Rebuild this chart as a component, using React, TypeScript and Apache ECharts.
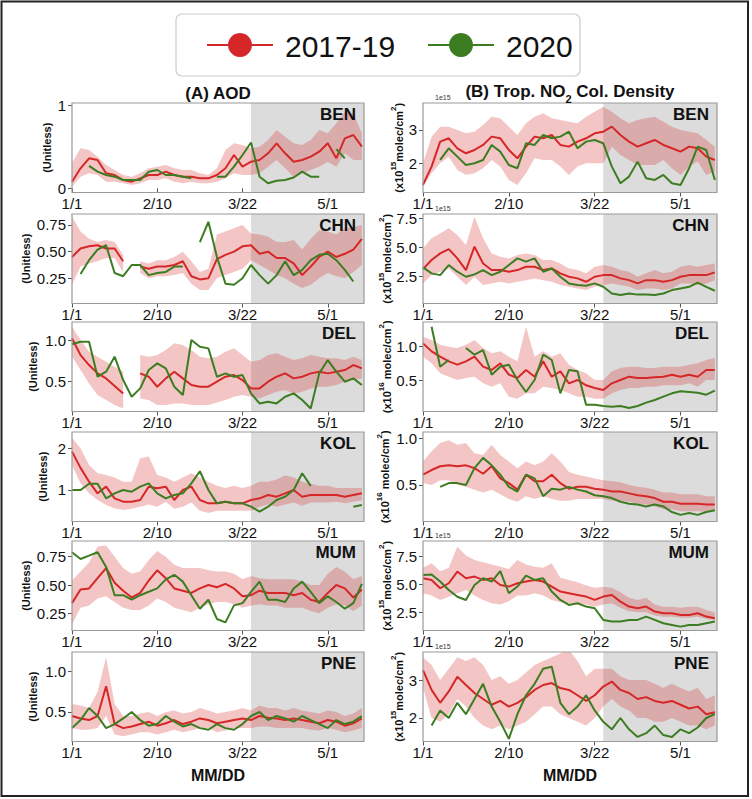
import React, { useEffect, useRef } from "react";
import * as echarts from "echarts";

// ---------------- DATA ----------------
const DAYS = [0, 4, 8, 12, 16, 20, 24, 28, 32, 36, 40, 44, 48, 52, 56, 60, 64, 68, 72, 76, 80, 84, 88, 92, 96, 100, 104, 108, 112, 116, 120, 124, 128, 132, 136];
const X_TICKS = [0, 40, 80, 120];
const X_TICK_LABELS = ["1/1", "2/10", "3/22", "5/1"];
const X_MAX = 137;
const LOCKDOWN_START = 84;
const STATIONS = ["BEN", "CHN", "DEL", "KOL", "MUM", "PNE"];
const SERIES_NAMES = ["2017-19", "2020"];

const BEN_AOD_MEAN = [0.08,0.24,0.36,0.34,0.18,0.16,0.10,0.08,0.12,0.16,0.16,0.20,0.16,0.14,0.14,0.12,0.12,0.16,0.24,0.40,0.26,0.32,0.34,0.42,0.54,0.42,0.32,0.34,0.38,0.44,0.54,0.36,0.60,0.64,0.50];
const BEN_AOD_LO = [0.02,0.14,0.18,0.16,0.08,0.08,0.06,0.04,0.06,0.10,0.10,0.12,0.08,0.06,0.08,0.06,0.06,0.08,0.12,0.18,0.16,0.16,0.18,0.26,0.34,0.24,0.14,0.18,0.22,0.26,0.32,0.26,0.42,0.34,0.34];
const BEN_AOD_HI = [0.30,0.48,0.46,0.38,0.28,0.22,0.16,0.14,0.18,0.24,0.26,0.28,0.24,0.22,0.22,0.18,0.16,0.24,0.46,0.54,0.52,0.48,0.50,0.58,0.70,0.62,0.54,0.52,0.58,0.70,0.66,0.78,0.92,0.90,0.66];
const BEN_AOD_2020 = [null,null,0.27,0.20,0.16,0.14,0.10,0.10,0.10,0.20,0.22,0.16,0.16,0.14,0.12,null,null,0.14,0.14,0.26,0.40,0.55,0.14,0.06,0.09,0.10,0.13,0.20,0.14,0.14,null,0.47,0.36,null,null];

const BEN_NO2_MEAN = [1.35,1.90,2.65,2.75,2.45,2.30,2.40,2.55,2.80,2.75,2.40,2.15,2.50,2.80,2.75,2.85,2.55,2.50,2.65,2.75,2.90,2.95,3.10,2.85,2.65,2.50,2.60,2.70,2.55,2.45,2.35,2.50,2.45,2.20,2.10];
const BEN_NO2_LO = [1.30,1.70,2.00,2.20,1.80,1.65,1.70,1.85,2.10,1.90,1.50,1.35,1.70,2.15,2.10,2.10,1.90,1.65,1.90,2.00,2.00,2.00,2.50,2.25,2.10,1.95,1.95,1.95,2.10,1.85,1.65,1.90,2.05,1.65,1.75];
const BEN_NO2_HI = [2.00,2.80,3.10,3.10,3.00,2.90,2.95,3.15,3.40,3.35,3.10,2.85,3.20,3.40,3.50,3.35,3.30,3.25,3.20,3.40,3.55,3.70,3.55,3.35,3.20,3.30,3.35,3.40,3.25,3.10,3.00,2.95,2.90,2.70,2.50];
const BEN_NO2_2020 = [null,null,2.10,2.45,2.20,1.95,2.00,2.10,2.55,2.35,1.95,1.85,2.60,2.55,2.85,2.75,2.80,2.95,2.45,2.65,2.70,2.60,1.90,1.40,1.60,2.05,1.55,1.50,1.65,1.40,1.35,1.85,2.50,2.40,1.50];

const CHN_AOD_MEAN = [0.45,0.53,0.55,0.56,0.53,0.53,0.41,null,0.36,0.34,0.36,0.36,0.375,0.41,0.27,0.24,0.25,0.43,0.47,0.50,0.55,0.56,0.48,0.50,0.44,0.44,0.39,0.28,0.36,0.45,0.50,0.45,0.48,0.52,0.62];
const CHN_AOD_LO = [0.19,0.36,0.39,0.41,0.44,0.44,0.31,null,0.30,0.25,0.27,0.27,0.28,0.30,0.20,0.14,0.14,0.25,0.28,0.31,0.34,0.42,0.375,0.33,0.28,0.25,0.20,0.16,0.19,0.25,0.30,0.27,0.25,0.31,0.375];
const CHN_AOD_HI = [0.83,0.69,0.62,0.59,0.61,0.59,0.47,null,0.41,0.39,0.42,0.42,0.45,0.50,0.41,0.31,0.34,0.66,0.69,0.72,0.75,0.67,0.66,0.64,0.59,0.59,0.61,0.52,0.62,0.70,0.69,0.66,0.72,0.73,0.75];
const CHN_AOD_2020 = [null,0.29,0.42,0.52,0.56,0.30,0.27,0.375,0.375,0.28,0.30,0.31,0.36,0.36,null,0.59,0.78,0.45,0.20,0.19,0.25,0.375,0.28,0.20,0.28,0.41,0.28,0.33,0.42,0.47,0.48,0.42,0.33,0.22,null];

const CHN_NO2_MEAN = [3.15,3.93,4.50,4.87,4.07,3.07,5.07,3.64,3.07,3.07,2.93,3.07,3.36,3.36,3.07,3.21,2.79,2.50,2.36,2.07,2.50,2.64,2.64,2.36,2.21,1.93,2.21,2.21,2.07,2.21,2.50,2.64,2.64,2.64,2.87];
const CHN_NO2_LO = [1.93,2.64,2.93,3.21,2.50,1.79,2.50,1.79,1.93,2.07,1.93,2.07,2.21,2.36,2.21,2.07,1.79,1.64,1.50,1.36,1.64,1.79,1.93,1.79,1.64,1.36,1.50,1.50,1.36,1.50,1.93,1.93,1.79,1.93,2.21];
const CHN_NO2_HI = [4.93,5.79,6.21,6.64,6.07,5.21,7.64,5.79,4.50,4.21,4.07,4.36,4.50,4.36,3.93,3.93,3.64,3.21,3.07,2.79,3.36,3.50,3.36,3.07,2.93,2.50,2.79,3.07,2.79,2.93,3.36,3.50,3.36,3.50,3.64];
const CHN_NO2_2020 = [3.30,2.79,2.64,3.50,2.93,2.50,2.70,3.07,2.64,2.93,3.50,4.07,3.79,4.07,2.93,3.21,2.50,1.93,1.79,1.73,1.93,1.64,1.07,0.93,1.07,0.97,0.97,0.93,1.07,1.36,1.50,1.64,2.00,1.64,1.30];

const DEL_AOD_MEAN = [1.02,0.82,0.70,0.60,0.54,0.45,0.36,null,0.60,0.56,0.44,0.54,0.62,0.54,0.46,0.44,0.44,0.50,0.56,0.58,0.52,0.42,0.42,0.50,0.56,0.60,0.54,0.56,0.60,0.62,0.60,0.62,0.64,0.70,0.66];
const DEL_AOD_LO = [0.80,0.64,0.48,0.34,0.28,0.22,0.18,null,0.30,0.28,0.22,0.22,0.24,0.24,0.22,0.22,0.22,0.25,0.28,0.32,0.34,0.32,0.30,0.34,0.38,0.40,0.36,0.38,0.42,0.44,0.44,0.46,0.50,0.52,0.54];
const DEL_AOD_HI = [1.16,1.00,0.86,0.80,0.74,0.68,0.62,null,0.82,0.80,0.82,0.88,0.96,0.94,0.88,0.80,0.78,0.80,0.86,0.90,0.82,0.74,0.76,0.82,0.84,0.80,0.76,0.78,0.82,0.80,0.78,0.78,0.76,0.80,0.76];
const DEL_AOD_2020 = [0.95,0.98,0.98,0.56,0.62,0.80,0.52,0.32,0.42,0.64,0.72,0.66,0.44,0.34,1.00,0.92,0.90,0.56,0.60,0.56,0.58,0.36,0.24,0.26,0.24,0.32,0.36,0.28,0.18,0.60,0.76,0.62,0.50,0.54,0.46];

const DEL_NO2_MEAN = [1.05,0.93,0.85,0.78,0.73,0.78,0.85,0.70,0.65,0.75,0.58,0.53,0.65,0.55,0.78,0.55,0.63,0.45,0.50,0.42,0.38,0.35,0.45,0.50,0.55,0.53,0.53,0.54,0.55,0.58,0.55,0.58,0.55,0.65,0.65];
const DEL_NO2_LO = [0.85,0.75,0.60,0.55,0.50,0.53,0.55,0.45,0.40,0.45,0.25,0.22,0.30,0.30,0.40,0.38,0.35,0.30,0.25,0.25,0.22,0.22,0.30,0.35,0.38,0.38,0.40,0.40,0.42,0.42,0.42,0.45,0.40,0.50,0.50];
const DEL_NO2_HI = [1.15,1.10,1.03,1.00,0.98,1.03,1.10,0.98,0.90,0.93,0.85,0.78,1.30,0.85,0.93,0.85,0.90,0.73,0.65,0.60,0.50,0.50,0.63,0.68,0.70,0.70,0.68,0.68,0.70,0.70,0.70,0.73,0.75,0.80,0.83];
const DEL_NO2_2020 = [null,1.30,0.70,0.80,null,0.98,0.88,0.95,0.58,0.70,0.73,0.50,0.32,0.50,0.88,0.80,0.30,0.65,0.63,0.13,0.13,0.11,0.10,0.11,0.08,0.11,0.16,0.20,0.25,0.30,0.33,0.32,0.31,0.28,0.34];

const KOL_AOD_MEAN = [1.92,1.53,1.20,0.92,1.08,0.80,0.72,0.72,0.76,1.08,1.04,1.08,0.76,1.00,1.08,0.76,0.68,0.68,0.72,0.68,0.68,0.76,0.80,0.88,0.84,0.92,1.00,0.84,0.88,0.88,0.88,0.88,0.84,0.88,0.92];
const KOL_AOD_LO = [1.60,1.16,0.92,0.76,0.64,0.56,0.52,0.55,0.60,0.65,0.60,0.72,0.55,0.60,0.70,0.50,0.45,0.50,0.50,0.50,0.50,0.50,0.60,0.65,0.60,0.65,0.70,0.62,0.70,0.70,0.70,0.72,0.68,0.72,0.75];
const KOL_AOD_HI = [2.25,2.00,1.60,1.40,1.36,1.30,1.20,1.20,1.76,1.80,1.36,1.30,1.20,1.30,1.40,1.30,1.20,1.10,1.05,1.10,1.05,1.10,1.20,1.20,1.25,1.35,1.30,1.20,1.15,1.10,1.10,1.05,1.05,1.05,1.05];
const KOL_AOD_2020 = [1.00,1.00,1.15,1.15,0.80,0.92,1.00,0.96,1.08,1.16,0.92,0.80,0.88,0.92,1.16,1.45,1.00,0.68,0.72,0.68,0.68,0.60,0.48,0.60,0.76,0.84,1.00,1.40,1.10,null,null,null,null,0.60,0.64];

const KOL_NO2_MEAN = [0.61,0.66,0.70,0.71,0.70,0.71,0.68,0.62,0.70,0.57,0.52,0.45,0.61,0.54,0.54,0.61,0.52,0.46,0.48,0.48,0.46,0.45,0.43,0.43,0.41,0.39,0.38,0.36,0.32,0.32,0.30,0.30,0.30,0.29,0.29];
const KOL_NO2_LO = [0.52,0.50,0.55,0.55,0.50,0.48,0.45,0.42,0.45,0.40,0.35,0.32,0.38,0.35,0.38,0.35,0.33,0.33,0.35,0.35,0.35,0.35,0.33,0.33,0.32,0.30,0.29,0.27,0.24,0.24,0.22,0.22,0.22,0.21,0.22];
const KOL_NO2_HI = [0.75,0.86,0.95,0.98,0.93,0.95,0.84,0.82,0.93,0.82,0.75,0.68,0.75,0.71,0.75,0.84,0.75,0.64,0.61,0.59,0.57,0.55,0.54,0.53,0.50,0.48,0.47,0.45,0.42,0.42,0.40,0.40,0.40,0.38,0.38];
const KOL_NO2_2020 = [null,null,0.48,0.52,0.52,0.50,0.68,0.79,0.71,0.61,0.48,0.43,0.61,0.57,0.38,0.46,0.45,0.48,0.45,0.43,0.39,0.38,0.36,0.32,0.30,0.29,0.27,0.29,0.27,0.21,0.18,0.20,0.18,0.21,0.23];

const MUM_AOD_MEAN = [0.34,0.46,0.47,0.56,0.65,0.52,0.45,0.39,0.43,0.54,0.63,0.56,0.47,0.45,0.43,0.47,0.50,0.48,0.51,0.47,0.40,0.41,0.45,0.43,0.43,0.43,0.41,0.43,0.37,0.35,0.43,0.50,0.47,0.39,0.46];
const MUM_AOD_LO = [0.15,0.30,0.32,0.38,0.40,0.35,0.30,0.28,0.28,0.32,0.38,0.35,0.30,0.28,0.26,0.30,0.33,0.35,0.35,0.33,0.30,0.32,0.33,0.32,0.32,0.30,0.30,0.30,0.27,0.25,0.30,0.33,0.32,0.27,0.32];
const MUM_AOD_HI = [0.54,0.62,0.70,0.84,0.85,0.75,0.65,0.60,0.62,0.72,0.80,0.75,0.68,0.65,0.65,0.65,0.63,0.62,0.62,0.60,0.55,0.58,0.56,0.55,0.55,0.55,0.55,0.53,0.50,0.50,0.60,0.66,0.62,0.55,0.58];
const MUM_AOD_2020 = [0.79,0.73,0.76,0.79,0.66,0.41,0.41,0.37,0.41,0.44,0.47,0.55,0.59,0.53,0.41,0.29,0.37,0.20,0.17,0.32,0.34,0.44,0.53,0.37,0.37,0.35,0.47,0.53,0.44,0.34,0.40,0.35,0.29,0.34,0.51];

const MUM_NO2_MEAN = [5.56,5.41,4.66,5.11,6.16,5.56,5.71,5.41,5.56,4.96,4.81,5.11,5.26,5.41,5.26,4.81,4.36,4.21,4.06,3.91,3.61,3.91,4.06,3.46,3.01,2.86,3.01,2.56,2.41,2.41,2.26,2.26,2.41,2.11,1.96];
const MUM_NO2_LO = [4.2,4.0,3.6,3.9,4.2,4.5,4.0,3.6,3.3,3.2,3.5,4.0,4.0,4.2,4.0,3.6,3.4,3.3,3.2,3.2,3.0,3.2,3.3,2.9,2.6,2.5,2.5,2.2,2.1,2.1,2.0,2.0,2.1,1.9,1.8];
const MUM_NO2_HI = [6.5,6.9,6.2,6.5,8.4,7.6,7.2,7.0,6.8,6.6,6.4,7.2,6.8,6.6,6.5,6.9,5.6,5.4,5.2,4.9,4.7,4.8,4.7,4.3,3.8,3.6,3.8,3.2,3.0,3.0,2.9,3.0,3.0,2.7,2.5];
const MUM_NO2_2020 = [5.86,5.90,5.26,4.50,3.90,3.60,4.96,5.56,5.26,6.20,4.21,4.81,5.80,5.41,5.56,4.36,3.61,3.16,3.31,3.01,2.86,1.81,1.66,1.66,1.81,1.81,2.11,1.81,1.51,1.36,1.21,1.36,1.36,1.51,1.66];

const PNE_AOD_MEAN = [0.45,0.42,0.40,0.45,0.82,0.35,0.30,0.32,0.35,0.38,0.33,0.36,0.40,0.35,0.38,0.42,0.40,0.36,0.38,0.40,0.42,0.40,0.45,0.43,0.42,0.40,0.42,0.40,0.38,0.36,0.40,0.38,0.33,0.36,0.42];
const PNE_AOD_LO = [0.30,0.28,0.28,0.30,0.45,0.22,0.20,0.22,0.25,0.25,0.22,0.25,0.28,0.25,0.27,0.30,0.30,0.25,0.27,0.30,0.30,0.30,0.32,0.32,0.30,0.30,0.30,0.30,0.28,0.27,0.30,0.28,0.25,0.27,0.30];
const PNE_AOD_HI = [0.60,0.58,0.55,0.75,1.18,0.60,0.45,0.45,0.48,0.50,0.45,0.50,0.52,0.48,0.50,0.55,0.52,0.48,0.50,0.52,0.55,0.52,0.58,0.55,0.55,0.52,0.55,0.52,0.50,0.48,0.52,0.50,0.45,0.48,0.55];
const PNE_AOD_2020 = [0.30,0.40,0.55,0.45,0.30,0.35,0.42,0.50,0.40,0.33,0.35,0.45,0.38,0.32,0.35,0.30,0.28,0.35,0.30,0.28,0.35,0.45,0.50,0.40,0.45,0.42,0.38,0.45,0.40,0.35,0.30,0.40,0.35,0.38,0.45];

const PNE_NO2_MEAN = [3.26,2.74,2.40,2.70,3.09,2.87,2.66,2.50,2.35,2.45,2.30,2.40,2.55,2.74,2.87,2.92,2.79,2.74,2.60,2.45,2.60,2.83,2.96,2.74,2.66,2.50,2.55,2.45,2.40,2.45,2.35,2.25,2.30,2.10,2.15];
const PNE_NO2_LO = [2.8,2.0,1.9,2.1,2.5,2.3,2.0,1.8,1.7,1.8,1.7,1.8,1.9,2.1,2.3,2.3,2.1,2.0,1.9,1.8,2.0,2.3,2.5,2.3,2.2,2.0,2.0,1.9,1.9,2.0,1.9,1.8,1.8,1.7,1.8];
const PNE_NO2_HI = [3.6,3.4,3.0,3.3,3.6,3.5,3.6,3.4,3.0,3.1,2.9,3.0,3.2,3.4,3.5,3.6,3.7,3.8,3.5,3.1,3.3,3.3,3.3,3.1,3.0,3.0,3.0,2.9,2.8,2.9,2.8,2.7,2.8,2.5,2.6];
const PNE_NO2_2020 = [null,1.80,2.20,2.00,2.40,2.10,2.50,2.90,2.30,1.90,1.45,2.10,2.60,2.90,3.30,3.35,2.40,2.10,2.30,2.60,2.20,1.90,1.70,2.00,1.70,1.50,1.60,1.80,1.55,1.50,1.70,1.60,1.75,2.00,2.10];

const AOD_Y_MIN = [-0.05, 0.014, 0.143, 0.245, 0.098, 0.134];
const AOD_Y_MAX = [1.024, 0.853, 1.216, 2.39, 0.889, 1.244];
const AOD_TICKS = [[0, 1], [0.25, 0.5, 0.75], [0.5, 1.0], [1, 2], [0.25, 0.5, 0.75], [0.5, 1.0]];
const AOD_TICK_LABELS = [["0", "1"], ["0.25", "0.50", "0.75"], ["0.5", "1.0"], ["1", "2"], ["0.25", "0.50", "0.75"], ["0.5", "1.0"]];
const NO2_Y_MIN = [1.123, 0.21, 0.027, 0.109, 0.86, 1.38];
const NO2_Y_MAX = [3.81, 7.87, 1.371, 1.067, 8.91, 3.74];
const NO2_TICKS = [[2, 3], [2.5, 5, 7.5], [0.5, 1.0], [0.5, 1.0], [2.5, 5, 7.5], [2, 3]];
const NO2_TICK_LABELS = [["2", "3"], ["2.5", "5.0", "7.5"], ["0.5", "1.0"], ["0.5", "1.0"], ["2.5", "5.0", "7.5"], ["2", "3"]];
const NO2_EXPONENT = ["15", "15", "16", "16", "15", "15"];
const NO2_OFFSET_TEXT = ["1e15", "1e15", "", "", "1e15", "1e15"];

const AOD_MEAN = [BEN_AOD_MEAN, CHN_AOD_MEAN, DEL_AOD_MEAN, KOL_AOD_MEAN, MUM_AOD_MEAN, PNE_AOD_MEAN];
const AOD_LO = [BEN_AOD_LO, CHN_AOD_LO, DEL_AOD_LO, KOL_AOD_LO, MUM_AOD_LO, PNE_AOD_LO];
const AOD_HI = [BEN_AOD_HI, CHN_AOD_HI, DEL_AOD_HI, KOL_AOD_HI, MUM_AOD_HI, PNE_AOD_HI];
const AOD_2020 = [BEN_AOD_2020, CHN_AOD_2020, DEL_AOD_2020, KOL_AOD_2020, MUM_AOD_2020, PNE_AOD_2020];
const NO2_MEAN = [BEN_NO2_MEAN, CHN_NO2_MEAN, DEL_NO2_MEAN, KOL_NO2_MEAN, MUM_NO2_MEAN, PNE_NO2_MEAN];
const NO2_LO = [BEN_NO2_LO, CHN_NO2_LO, DEL_NO2_LO, KOL_NO2_LO, MUM_NO2_LO, PNE_NO2_LO];
const NO2_HI = [BEN_NO2_HI, CHN_NO2_HI, DEL_NO2_HI, KOL_NO2_HI, MUM_NO2_HI, PNE_NO2_HI];
const NO2_2020 = [BEN_NO2_2020, CHN_NO2_2020, DEL_NO2_2020, KOL_NO2_2020, MUM_NO2_2020, PNE_NO2_2020];

// ---------------- STYLE / LAYOUT ----------------
const FONT = '"Liberation Sans", Arial, Helvetica, sans-serif';
const RED = "#d62728";
const GREEN = "#3c7d22";
const BAND = "rgba(214,39,40,0.27)";
const GRAY = "#dcdcdc";
const TXT = "#111";
const COL_LEFT = [72, 423];
const COL_W = [292, 294];
const ROW_TOP = [103, 214, 322, 432, 541, 652];
const ROW_H = 89.5;
const NAME_GAP = [
  [15, 35, 32, 22, 38, 32],
  [12, 31, 31, 33, 31, 19],
];

function buildOption() {
  const panels: any[] = [];
  for (let r = 0; r < 6; r++) {
    panels.push({
      col: 0, row: r, mean: AOD_MEAN[r], lo: AOD_LO[r], hi: AOD_HI[r], g: AOD_2020[r],
      min: AOD_Y_MIN[r], max: AOD_Y_MAX[r], ticks: AOD_TICKS[r], labels: AOD_TICK_LABELS[r],
      name: "(Unitless)",
    });
    panels.push({
      col: 1, row: r, mean: NO2_MEAN[r], lo: NO2_LO[r], hi: NO2_HI[r], g: NO2_2020[r],
      min: NO2_Y_MIN[r], max: NO2_Y_MAX[r], ticks: NO2_TICKS[r], labels: NO2_TICK_LABELS[r],
      name: `{m|(x10}{s|${NO2_EXPONENT[r]}}{m|${r === 2 || r === 3 ? " " : ""}molec/cm}{s|2}{m|)}`,
    });
  }

  const grid = panels.map((p) => ({
    left: COL_LEFT[p.col], top: ROW_TOP[p.row], width: COL_W[p.col], height: ROW_H,
    show: true, borderColor: "#9a9a9a", borderWidth: 1.2, backgroundColor: "transparent", z: 10,
  }));

  const xAxis = panels.map((p, i) => ({
    gridIndex: i, type: "value", min: 0, max: X_MAX,
    axisLine: { show: false }, splitLine: { show: false },
    axisTick: { show: true, customValues: X_TICKS, length: 4, lineStyle: { color: "#555" } },
    axisLabel: {
      customValues: X_TICKS,
      formatter: (v: number) => { const k = X_TICKS.indexOf(v); return k >= 0 ? X_TICK_LABELS[k] : ""; },
      fontSize: 15, color: TXT, fontFamily: FONT, margin: 3,
    },
  }));

  const yAxis = panels.map((p, i) => ({
    gridIndex: i, type: "value", min: p.min, max: p.max,
    axisLine: { show: false }, splitLine: { show: false },
    axisTick: { show: true, customValues: p.ticks, length: 4, lineStyle: { color: "#555" } },
    axisLabel: {
      customValues: p.ticks,
      formatter: (v: number) => { const k = p.ticks.findIndex((t: number) => Math.abs(t - v) < 1e-9); return k >= 0 ? p.labels[k] : ""; },
      fontSize: 15, color: TXT, fontFamily: FONT, margin: 6,
    },
    name: p.name, nameLocation: "middle", nameGap: NAME_GAP[p.col][p.row],
    nameTextStyle: {
      fontSize: 11, fontWeight: "bold", color: TXT, fontFamily: FONT, lineHeight: 14,
      rich: {
        m: { fontSize: 11, fontWeight: "bold", color: TXT, fontFamily: FONT, lineHeight: 14, verticalAlign: "bottom" },
        s: { fontSize: 8, fontWeight: "bold", color: TXT, fontFamily: FONT, lineHeight: 15, verticalAlign: "top" },
      },
    },
  }));

  const series: any[] = [];
  panels.forEach((p, i) => {
    series.push({
      type: "custom", xAxisIndex: i, yAxisIndex: i, silent: true, z: 1, clip: true,
      data: [[0, p.min]],
      renderItem: (params: any, api: any) => {
        const tl = api.coord([LOCKDOWN_START, p.max]);
        const br = api.coord([X_MAX, p.min]);
        const children: any[] = [{
          type: "rect",
          shape: { x: tl[0], y: tl[1], width: br[0] - tl[0], height: br[1] - tl[1] },
          style: { fill: GRAY },
        }];
        let seg: number[] = [];
        const flush = () => {
          if (seg.length >= 2) {
            const up = seg.map((k) => api.coord([DAYS[k], p.hi[k]]));
            const dn = seg.slice().reverse().map((k) => api.coord([DAYS[k], p.lo[k]]));
            children.push({ type: "polygon", shape: { points: up.concat(dn) }, style: { fill: BAND } });
          }
          seg = [];
        };
        for (let k = 0; k < DAYS.length; k++) {
          if (p.hi[k] == null || p.lo[k] == null) flush();
          else seg.push(k);
        }
        flush();
        return { type: "group", children };
      },
    });
    series.push({
      type: "line", name: SERIES_NAMES[0], xAxisIndex: i, yAxisIndex: i, silent: true, z: 3,
      data: DAYS.map((d, k) => [d, p.mean[k]]), showSymbol: false, symbol: "none", connectNulls: false,
      lineStyle: { color: RED, width: 2 }, itemStyle: { color: RED },
    });
    series.push({
      type: "line", name: SERIES_NAMES[1], xAxisIndex: i, yAxisIndex: i, silent: true, z: 4,
      data: DAYS.map((d, k) => [d, p.g[k]]), showSymbol: false, symbol: "none", connectNulls: false,
      lineStyle: { color: GREEN, width: 2 }, itemStyle: { color: GREEN },
    });
  });

  const graphic: any[] = [];
  // outer frame
  graphic.push({ type: "rect", z: 100, shape: { x: 1.5, y: 1.5, width: 746.5, height: 794.5 }, style: { fill: "none", stroke: "#222", lineWidth: 2 } });
  // legend
  graphic.push({ type: "rect", z: 100, shape: { x: 176, y: 14, width: 404, height: 62, r: 6 }, style: { fill: "#fff", stroke: "#cccccc", lineWidth: 1.2 } });
  graphic.push({ type: "line", z: 101, shape: { x1: 207, y1: 45, x2: 273, y2: 45 }, style: { stroke: RED, lineWidth: 2 } });
  graphic.push({ type: "circle", z: 101, shape: { cx: 240, cy: 45, r: 12 }, style: { fill: RED } });
  graphic.push({ type: "text", z: 101, x: 285, y: 46, style: { text: SERIES_NAMES[0], fontSize: 30, fontFamily: FONT, fill: TXT, align: "left", verticalAlign: "middle" } });
  graphic.push({ type: "line", z: 101, shape: { x1: 428, y1: 45, x2: 494, y2: 45 }, style: { stroke: GREEN, lineWidth: 2 } });
  graphic.push({ type: "circle", z: 101, shape: { cx: 461, cy: 45, r: 12 }, style: { fill: GREEN } });
  graphic.push({ type: "text", z: 101, x: 506, y: 46, style: { text: SERIES_NAMES[1], fontSize: 30, fontFamily: FONT, fill: TXT, align: "left", verticalAlign: "middle" } });
  // column titles
  graphic.push({ type: "text", z: 101, x: COL_LEFT[0] + COL_W[0] / 2, y: 93, style: { text: "(A) AOD", fontSize: 17, fontWeight: "bold", fontFamily: FONT, fill: TXT, align: "center", verticalAlign: "middle" } });
  graphic.push({
    type: "text", z: 101, x: COL_LEFT[1] + COL_W[1] / 2, y: 83,
    style: {
      text: "{b|(B) Trop. NO}{s|2}{b| Col. Density}", align: "center", verticalAlign: "top",
      rich: {
        b: { fontSize: 17, fontWeight: "bold", fontFamily: FONT, fill: TXT, lineHeight: 20, verticalAlign: "top" },
        s: { fontSize: 11, fontWeight: "bold", fontFamily: FONT, fill: TXT, lineHeight: 21, verticalAlign: "bottom" },
      },
    },
  });
  // station labels and offset texts
  for (let r = 0; r < 6; r++) {
    for (let c = 0; c < 2; c++) {
      graphic.push({ type: "text", z: 101, x: COL_LEFT[c] + COL_W[c] - 8, y: ROW_TOP[r] + 3, style: { text: STATIONS[r], fontSize: 17, fontWeight: "bold", fontFamily: FONT, fill: TXT, align: "right", verticalAlign: "top" } });
    }
    if (NO2_OFFSET_TEXT[r]) {
      graphic.push({ type: "text", z: 101, x: COL_LEFT[1] + 12, y: ROW_TOP[r] - 2, style: { text: NO2_OFFSET_TEXT[r], fontSize: 7, fontFamily: FONT, fill: "#333", align: "left", verticalAlign: "bottom" } });
    }
  }
  // x axis titles
  for (let c = 0; c < 2; c++) {
    graphic.push({ type: "text", z: 101, x: COL_LEFT[c] + COL_W[c] / 2, y: 775, style: { text: "MM/DD", fontSize: 16, fontWeight: "bold", fontFamily: FONT, fill: TXT, align: "center", verticalAlign: "middle" } });
  }

  return { animation: false, backgroundColor: "#fff", grid, xAxis, yAxis, series, graphic };
}

export default function App() {
  const ref = useRef<HTMLDivElement>(null);
  useEffect(() => {
    const chart = echarts.init(ref.current as HTMLDivElement, null, { renderer: "svg" });
    chart.setOption(buildOption() as any);
    return () => chart.dispose();
  }, []);
  return <div ref={ref} style={{ position: "fixed", left: 0, top: 0, width: 752, height: 799, background: "#fff" }} />;
}
